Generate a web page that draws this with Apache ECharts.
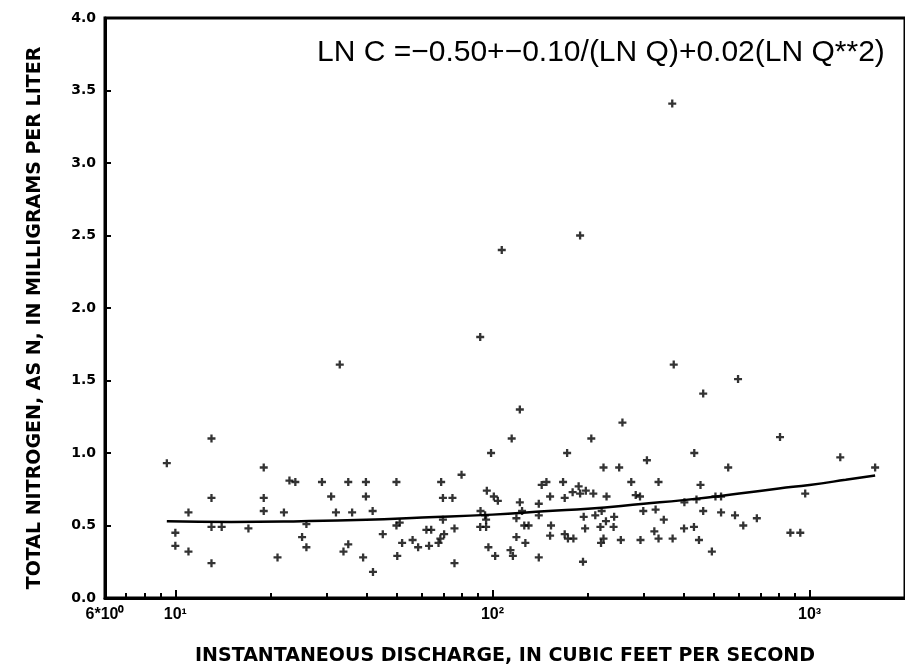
<!DOCTYPE html>
<html>
<head>
<meta charset="utf-8">
<script src="https://cdn.jsdelivr.net/npm/echarts@6/dist/echarts.min.js"></script>
<style>
  html, body { margin: 0; padding: 0; background: #ffffff; }
  #chart { width: 905px; height: 671px; }
</style>
</head>
<body>
<div id="chart"></div>
<script>
// Instantaneous discharge, cubic feet per second (one entry per sample)
const dischargeQ = [
  9.4, 10.0, 10.0, 11.0, 11.0, 13.0, 13.0, 13.0, 13.0, 14.0,
  17.0, 19.0, 19.0, 19.0, 21.0, 22.0, 22.9, 23.9, 25.1, 25.9,
  25.9, 29.0, 31.0, 32.1, 33.9, 35.1, 35.1, 36.1, 33.0,
  39.1, 39.9, 39.9, 41.9, 42.0, 45.1, 49.8, 49.8, 51.0, 50.1,
  51.9, 56.0, 58.3, 61.9, 64.1, 63.1, 67.6, 68.5, 68.9, 69.8,
  74.8, 69.8, 70.4, 75.9, 75.9, 79.9, 91.5, 91.7, 91.5, 94.8,
  96.0, 95.5, 95.5, 97.1, 99.0, 101, 104, 102, 107, 115,
  122, 119, 119, 122, 124, 114, 116, 126, 130, 127,
  140, 140, 140, 143, 148, 152, 153, 152, 167, 169,
  172, 169, 173, 180, 179, 187, 189, 189, 197, 208,
  205, 194, 211, 196, 193, 224, 219, 224, 220, 229,
  221,
  595, 462, 257, 807, 1250, 1610, 433, 307, 251, 554,
  274, 334, 453, 283, 292, 403, 440, 505, 526, 969,
  242, 299, 327, 462, 526, 582, 682, 228, 241, 347,
  618, 324, 334, 370, 402, 432, 254, 293, 448, 492,
  870, 935, 369, 373
];
// Total nitrogen as N, milligrams per liter (same order as dischargeQ)
const nitrogenC = [
  0.93, 0.45, 0.36, 0.59, 0.32, 1.10, 0.69, 0.49, 0.24, 0.49,
  0.48, 0.90, 0.69, 0.60, 0.28, 0.59, 0.81, 0.80, 0.42, 0.51,
  0.35, 0.80, 0.70, 0.59, 0.32, 0.80, 0.37, 0.59, 1.61,
  0.28, 0.80, 0.70, 0.60, 0.18, 0.44, 0.80, 0.50, 0.52, 0.29,
  0.38, 0.40, 0.35, 0.47, 0.47, 0.36, 0.38, 0.41, 0.80, 0.69,
  0.69, 0.54, 0.44, 0.48, 0.24, 0.85, 1.80, 0.60, 0.49, 0.57,
  0.74, 0.54, 0.49, 0.35, 1.00, 0.70, 0.67, 0.29, 2.40, 1.10,
  1.30, 0.55, 0.42, 0.66, 0.60, 0.33, 0.29, 0.50, 0.50, 0.38,
  0.65, 0.57, 0.28, 0.78, 0.80, 0.70, 0.50, 0.43, 0.80, 0.69,
  1.00, 0.44, 0.41, 0.41, 0.73, 0.77, 0.72, 2.50, 0.74, 0.72,
  1.10, 0.56, 0.57, 0.48, 0.25, 0.90, 0.49, 0.41, 0.38, 0.70,
  0.60,
  1.51, 1.41, 1.21, 1.11, 0.97, 0.90, 1.00, 0.95, 0.90, 0.90,
  0.80, 0.80, 0.78, 0.71, 0.70, 0.66, 0.68, 0.70, 0.70, 0.72,
  0.56, 0.60, 0.61, 0.60, 0.59, 0.57, 0.55, 0.53, 0.49, 0.54,
  0.50, 0.46, 0.41, 0.41, 0.48, 0.49, 0.40, 0.40, 0.40, 0.32,
  0.45, 0.45, 3.41, 1.61
];

// Fitted regression curve, traced along its length
const fitQ = [9.4, 15, 25, 40, 60, 100, 150, 200, 300, 400, 600, 800, 1000, 1300, 1610];
const fitC = [0.53, 0.525, 0.53, 0.54, 0.555, 0.575, 0.60, 0.615, 0.65, 0.675, 0.72, 0.755, 0.78, 0.815, 0.845];

// Axis tick positions
const xLabelValues = [6, 10, 100, 1000];
const xMajorTicks = [10, 100, 1000];
const xMinorTicks = [7, 8, 9, 20, 30, 40, 50, 60, 70, 80, 90, 200, 300, 400, 500, 600, 700, 800, 900];

const equationText = 'LN C =\u22120.50+\u22120.10/(LN Q)+0.02(LN Q**2)';
const xTitle = 'INSTANTANEOUS DISCHARGE, IN CUBIC FEET PER SECOND';
const yTitle = 'TOTAL NITROGEN, AS N, IN MILLIGRAMS PER LITER';

const SUP = { '0': '\u2070', '1': '\u00b9', '2': '\u00b2', '3': '\u00b3' };
function powerLabel(v) {
  const e = Math.floor(Math.log10(v) + 1e-9);
  const m = Math.round(v / Math.pow(10, e));
  return (m === 1 ? '' : m + '*') + '10' + SUP[String(e)];
}

const points = dischargeQ.map((q, i) => [q, nitrogenC[i]]);
const fitLine = fitQ.map((q, i) => [q, fitC[i]]);

const plusSymbol = 'path://M3.2,0H5.8V3.2H9V5.8H5.8V9H3.2V5.8H0V3.2H3.2Z';
const BLACK = '#000000';

const chart = echarts.init(document.getElementById('chart'), null, { renderer: 'canvas' });
chart.setOption({
  animation: false,
  backgroundColor: '#ffffff',
  grid: {
    left: 105, top: 18, width: 818, height: 584,
    show: true, borderColor: BLACK, borderWidth: 3, backgroundColor: 'transparent'
  },
  xAxis: [
    {
      type: 'log', logBase: 10, min: 6, max: 2000, position: 'bottom',
      axisLine: { show: true, lineStyle: { color: BLACK, width: 3 } },
      axisTick: { show: true, inside: true, length: 8, customValues: xMajorTicks,
                  lineStyle: { color: BLACK, width: 2 } },
      axisLabel: { show: true, customValues: xLabelValues, formatter: powerLabel,
                   color: BLACK, fontFamily: 'Liberation Sans', fontWeight: 'bold',
                   fontSize: 16, margin: 9 },
      splitLine: { show: false },
      name: xTitle, nameLocation: 'middle', nameGap: 49,
      nameTextStyle: { color: BLACK, fontFamily: 'DejaVu Sans', fontWeight: 'bold', fontSize: 19 }
    },
    {
      type: 'log', logBase: 10, min: 6, max: 2000, position: 'bottom',
      axisLine: { show: false },
      axisTick: { show: true, inside: true, length: 5, customValues: xMinorTicks,
                  lineStyle: { color: BLACK, width: 2 } },
      axisLabel: { show: false },
      splitLine: { show: false }
    }
  ],
  yAxis: {
    type: 'value', min: 0, max: 4, interval: 0.5,
    axisLine: { show: true, lineStyle: { color: BLACK, width: 3 } },
    axisTick: { show: true, inside: true, length: 6, lineStyle: { color: BLACK, width: 2 } },
    axisLabel: { formatter: v => v.toFixed(1), color: BLACK, fontFamily: 'DejaVu Sans',
                 fontWeight: 'bold', fontSize: 14, margin: 9 },
    splitLine: { show: false },
    name: yTitle, nameLocation: 'middle', nameRotate: 90, nameGap: 60,
    nameTextStyle: { color: BLACK, fontFamily: 'DejaVu Sans', fontWeight: 'bold', fontSize: 19,
                     padding: [0, 20, 0, 0] }
  },
  series: [
    {
      type: 'scatter', xAxisIndex: 0, data: points,
      symbol: plusSymbol, symbolSize: 8,
      itemStyle: { color: BLACK }
    },
    {
      type: 'line', xAxisIndex: 0, data: fitLine, smooth: true,
      showSymbol: false, symbol: 'none',
      lineStyle: { color: BLACK, width: 2.5 }
    }
  ],
  graphic: [
    {
      type: 'text', x: 317, y: 53,
      style: { text: equationText, fill: BLACK, font: '30px "Liberation Sans"',
               textAlign: 'left', textVerticalAlign: 'middle', verticalAlign: 'middle' }
    }
  ]
});
</script>
</body>
</html>
